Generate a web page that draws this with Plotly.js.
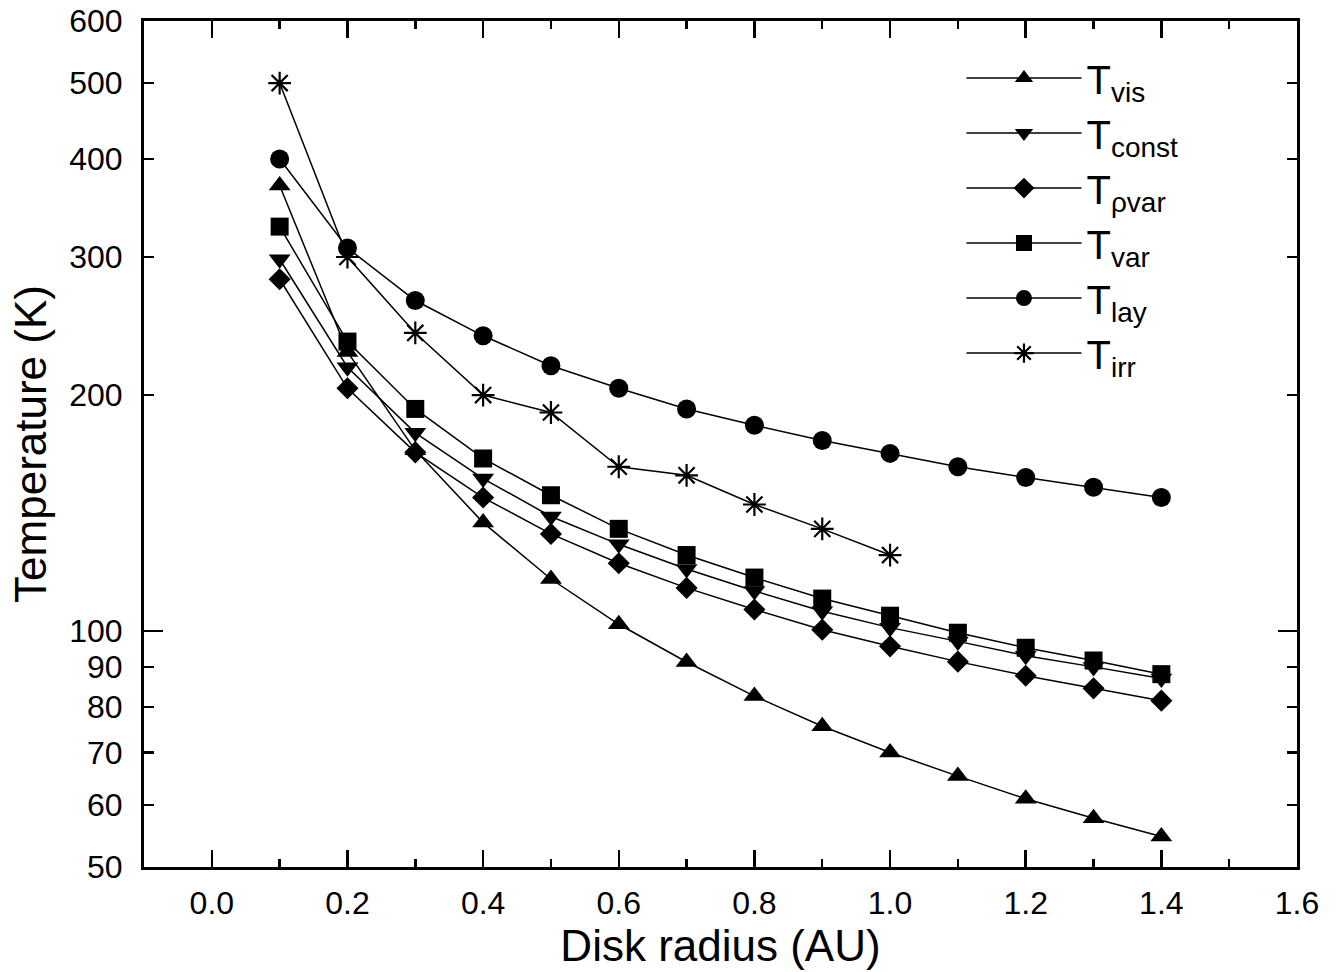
<!DOCTYPE html>
<html>
<head>
<meta charset="utf-8">
<script src="https://cdn.plot.ly/plotly-3.0.1.min.js"></script>
<style>html,body{margin:0;padding:0;background:#fff;}#chart{width:1340px;height:972px;}</style>
</head>
<body>
<div id="chart"></div>
<script>
// Disk radius (AU)
const radius = [0.1, 0.2, 0.3, 0.4, 0.5, 0.6, 0.7, 0.8, 0.9, 1.0, 1.1, 1.2, 1.3, 1.4];
const radiusIrr = [0.1, 0.2, 0.3, 0.4, 0.5, 0.6, 0.7, 0.8, 0.9, 1.0];
// Temperatures (K)
const T_vis    = [370, 227, 170, 137.5, 116.5, 102, 91.3, 82.6, 75.6, 70, 65.3, 61.1, 57.7, 54.7];
const T_const  = [298, 217, 179, 156.5, 140, 129, 120, 112.5, 106, 101, 97, 93, 90, 87];
const T_rhovar = [281, 204, 169, 148, 133, 122, 113.5, 106.5, 100.4, 95.6, 91.4, 87.7, 84.5, 81.5];
const T_var    = [328, 234, 192, 166, 149, 135, 125, 117, 110, 104.6, 99.5, 95.2, 91.7, 88.1];
const T_lay    = [400, 308, 264, 238, 218, 204, 192, 183, 175, 168.5, 162, 157, 152.5, 148];
const T_irr    = [500, 300, 240, 200, 190, 162, 158, 145, 135, 125];
// Tick labels
const yTicks = [50, 60, 70, 80, 90, 100, 200, 300, 400, 500, 600];
const yTickText = ['50', '60', '70', '80', '90', '100', '200', '300', '400', '500', '600'];
const seriesNames = ['T<sub>vis</sub>', 'T<sub>const</sub>', 'T<sub>\u03c1var</sub>', 'T<sub>var</sub>', 'T<sub>lay</sub>', 'T<sub>irr</sub>'];

const FONT = 'Arial, "Liberation Sans", sans-serif';
function tr(x, y, name, symbol, size, extra) {
  const t = {
    x: x, y: y, name: name, type: 'scatter', mode: 'lines+markers',
    line: {color: '#000', width: 1.5},
    marker: {symbol: symbol, size: size, color: '#000', line: {width: 0, color: '#000'}}
  };
  if (extra) Object.assign(t.marker, extra);
  return t;
}
const data = [
  tr(radius, T_vis, seriesNames[0], 'triangle-up', 19),
  tr(radius, T_const, seriesNames[1], 'triangle-down', 19),
  tr(radius, T_rhovar, seriesNames[2], 'diamond', 17),
  tr(radius, T_var, seriesNames[3], 'square', 18),
  tr(radius, T_lay, seriesNames[4], 'circle', 19),
  tr(radiusIrr, T_irr, seriesNames[5], 'asterisk-open', 19, {line: {width: 2.2, color: '#000'}}),
  {x: [], y: [], xaxis: 'x', yaxis: 'y2', type: 'scatter', showlegend: false, hoverinfo: 'skip'}
];
const yRange = [Math.log10(50), Math.log10(600)];
const layout = {
  width: 1340, height: 972,
  margin: {l: 144, r: 43, t: 21, b: 105},
  paper_bgcolor: '#fff', plot_bgcolor: '#fff',
  font: {family: FONT, color: '#000', size: 32},
  showlegend: true,
  legend: {x: 0.709, y: 0.971, xanchor: 'left', yanchor: 'top', bgcolor: 'rgba(0,0,0,0)',
           font: {family: FONT, size: 40, color: '#000'}, itemwidth: 115},
  xaxis: {
    range: [-0.1, 1.6], tick0: 0, dtick: 0.2, tickformat: '.1f',
    ticks: 'inside', ticklen: 17, tickwidth: 2.5, tickcolor: '#000',
    minor: {dtick: 0.1, tick0: 0, ticks: 'inside', ticklen: 8, tickwidth: 2.5, tickcolor: '#000', showgrid: false},
    showline: true, linewidth: 3, linecolor: '#000', mirror: 'ticks',
    showgrid: false, zeroline: false,
    tickfont: {family: FONT, size: 32}, ticklabelstandoff: 6,
    title: {text: 'Disk radius (AU)', font: {family: FONT, size: 44}, standoff: 0}
  },
  yaxis: {
    type: 'log', range: yRange, tickvals: yTicks, ticktext: yTickText,
    ticks: 'inside', ticklen: 10, tickwidth: 2.5, tickcolor: '#000',
    showline: true, linewidth: 3, linecolor: '#000', mirror: 'ticks',
    showgrid: false, zeroline: false,
    tickfont: {family: FONT, size: 32}, ticklabelstandoff: 12,
    title: {text: 'Temperature (K)', font: {family: FONT, size: 44}, standoff: 9}
  },
  yaxis2: {
    type: 'log', range: yRange, overlaying: 'y', side: 'left', tickvals: [100],
    ticks: 'inside', ticklen: 19, tickwidth: 2.5, tickcolor: '#000', mirror: 'ticks',
    showticklabels: false, showline: false, showgrid: false, zeroline: false
  }
};
Plotly.newPlot('chart', data, layout, {displayModeBar: false, staticPlot: true});
</script>
</body>
</html>
